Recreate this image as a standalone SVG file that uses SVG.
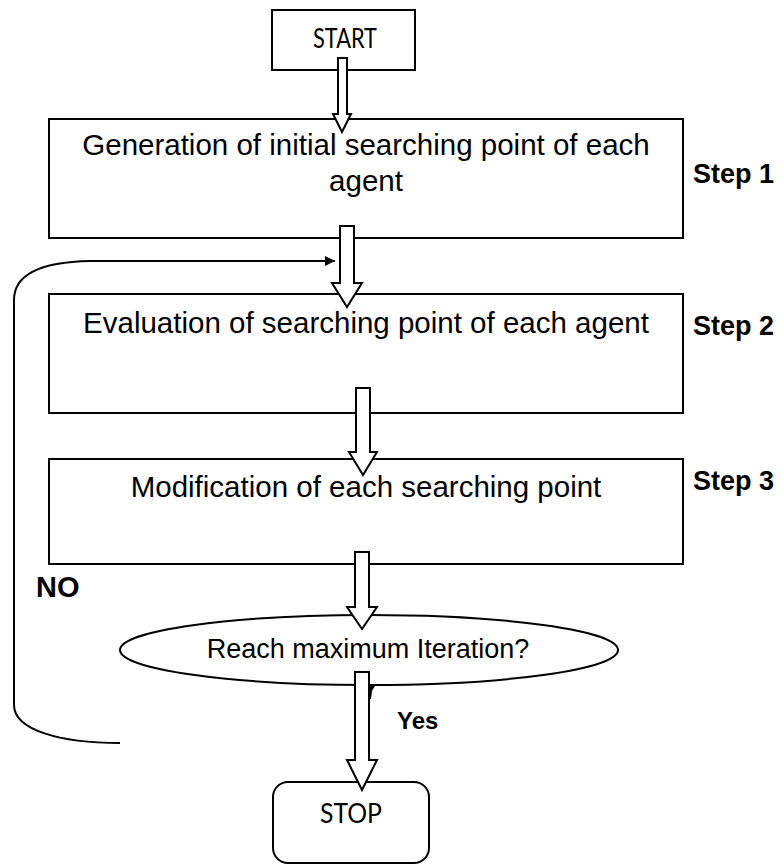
<svg xmlns="http://www.w3.org/2000/svg" width="782" height="865" viewBox="0 0 782 865">
  <style>
    .box { fill: #ffffff; stroke: #000000; stroke-width: 2; }
    .arrow { fill: #ffffff; stroke: #000000; stroke-width: 2; stroke-linejoin: miter; }
    .line { fill: none; stroke: #000000; stroke-width: 2; }
    .txt { font-family: "Liberation Sans", Arial, sans-serif; font-size: 29.5px; fill: #000000; }
    .dec { font-family: "Liberation Sans", Arial, sans-serif; font-size: 27px; fill: #000000; }
    .term { font-family: Lato, "Open Sans", sans-serif; font-size: 26px; fill: #000000; }
    .lbl { font-family: "Liberation Sans", Arial, sans-serif; font-weight: bold; fill: #000000; }
  </style>
  <defs>
    <marker id="head" viewBox="0 0 10 10" refX="10" refY="5" markerWidth="13" markerHeight="10" markerUnits="userSpaceOnUse" orient="auto">
      <path d="M0,0 L10,5 L0,10 Z" fill="#000000"/>
    </marker>
  </defs>
  <rect width="782" height="865" fill="#ffffff"/>

  <!-- process nodes -->
  <g id="start">
    <rect class="box" x="272" y="10" width="143" height="60"/>
    <text class="term" x="345" y="48" text-anchor="middle" textLength="64" lengthAdjust="spacingAndGlyphs">START</text>
  </g>
  <g id="step1">
    <rect class="box" x="49" y="119" width="634" height="119"/>
    <text class="txt" x="366" y="155" text-anchor="middle">Generation of initial searching point of each</text>
    <text class="txt" x="366" y="191" text-anchor="middle">agent</text>
    <text class="lbl" x="693" y="183" font-size="27">Step 1</text>
  </g>
  <g id="step2">
    <rect class="box" x="49" y="294" width="634" height="119"/>
    <text class="txt" x="366" y="333" text-anchor="middle">Evaluation of searching point of each agent</text>
    <text class="lbl" x="693" y="335" font-size="27">Step 2</text>
  </g>
  <g id="step3">
    <rect class="box" x="49" y="459" width="634" height="105"/>
    <text class="txt" x="366" y="497" text-anchor="middle">Modification of each searching point</text>
    <text class="lbl" x="693" y="490" font-size="27">Step 3</text>
  </g>
  <g id="decision">
    <ellipse class="box" cx="369" cy="650" rx="249" ry="35"/>
    <text class="dec" x="368" y="658" text-anchor="middle">Reach maximum Iteration?</text>
  </g>
  <g id="stop">
    <rect class="box" x="273" y="782" width="156" height="81" rx="15" ry="15"/>
    <text class="term" x="351" y="823" text-anchor="middle" textLength="62" lengthAdjust="spacingAndGlyphs">STOP</text>
  </g>

  <!-- connectors: hollow block arrows and the loop-back line -->
  <g id="connectors">
    <polygon class="arrow" points="338,58 347,58 347,114 351,114 342,132 333,114 338,114"/>
    <polygon class="arrow" points="340,226 354,226 354,283 362,283 347,307 332,283 340,283"/>
    <polygon class="arrow" points="356,388 370,388 370,452 377,452 363,475 349,452 356,452"/>
    <polygon class="arrow" points="355,552 369,552 369,607 377,607 362,629 347,607 355,607"/>
    <polygon class="arrow" points="355,672 369,672 369,760 377,760 362,790 347,760 355,760"/>
    <polygon points="369,686 375,686 372,691 371,699 369,699" fill="#000000"/>
    <path class="line" d="M120,743 C60,743 14,730 14,705 L14,300 C14,275 40,262 90,261 L120,261" />
    <line class="line" x1="90" y1="261" x2="335" y2="261" marker-end="url(#head)"/>
    <text class="lbl" x="36" y="597" font-size="29">NO</text>
    <text class="lbl" x="397" y="729" font-size="24">Yes</text>
  </g>
</svg>
